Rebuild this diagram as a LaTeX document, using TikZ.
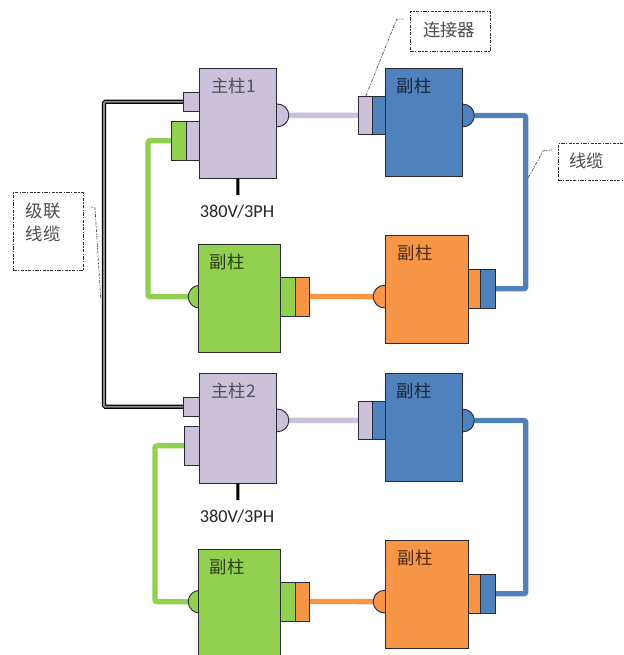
\documentclass[tikz,border=0pt]{standalone}
\usepackage{fontspec}
\setmainfont{Carlito}
\newfontfamily\cjk{Noto Sans CJK SC}
\usetikzlibrary{backgrounds}
\definecolor{cpur}{HTML}{CCC1DA}
\definecolor{cblu}{HTML}{4F81BD}
\definecolor{cgrn}{HTML}{92D050}
\definecolor{corg}{HTML}{F79646}
\definecolor{cline}{HTML}{2A2A35}
\tikzset{
  x=0.75pt,y=-0.75pt,
  unitbox/.style={draw=cline,line width=0.7pt,anchor=north west,outer sep=0pt,inner sep=0pt},
  bump/.style={circle,draw=cline,line width=0.7pt,minimum size=17pt,inner sep=0pt,outer sep=0pt},
  cable/.style={line width=4pt,rounded corners=1.5pt,line cap=butt,
    preaction={draw=black!20,transform canvas={shift={(0.7pt,-1.1pt)}}}},
  cascade/.style={line width=0.9pt,draw=black,double=black!45,double distance=1.4pt,rounded corners=1pt},
  power/.style={line width=2.2pt,draw=black},
  note/.style={draw=black!80,line width=0.5pt,dash pattern=on 2.5pt off 1pt on 1pt off 1pt,anchor=north west,outer sep=0pt,inner sep=0pt},
  leader/.style={draw=black!70,line width=0.5pt,dash pattern=on 2.5pt off 1pt on 1pt off 1pt},
  unitlabel/.style={font=\cjk\fontsize{13}{15}\selectfont,inner sep=0pt},
  notelabel/.style={font=\cjk\fontsize{13}{15}\selectfont,inner sep=0pt,text=black!70},
  volt/.style={font=\fontsize{13.7}{15}\selectfont,inner sep=0pt,text=black!85},
}
\newcommand{\Rct}[6]{% fill, name, x1, y1, x2, y2
  \node[unitbox,fill=#1,minimum width={((#5)-(#3))*0.75pt},minimum height={((#6)-(#4))*0.75pt}] (#2) at (#3,#4) {};}
\begin{document}
\begin{tikzpicture}
\useasboundingbox (0,0) rectangle (623,655);

\foreach \off/\s/\lab in {0/a/主柱1,305/b/主柱2}{
  % master unit
  \node[bump,fill=cpur] (mb\s) at (277.5,115.4+\off) {};
  \Rct{cpur}{mc\s}{183.7}{92.3+\off}{199}{111.3+\off}
  \Rct{cpur}{m\s}{199}{68.3+\off}{276.7}{178.3+\off}
  \node[unitlabel,text=black!60!cpur] (ml\s) at (233.5,86+\off) {\lab};
  \node[volt] (v\s) at (237,212+\off) {380V/3PH};
  \coordinate (pw\s) at (237.8,195+\off);
  \draw[power] (m\s.south) -- (pw\s);
  % blue unit
  \node[bump,fill=cblu] (bb\s) at (463,115.5+\off) {};
  \Rct{cblu}{bc\s}{372.3}{96+\off}{385}{134.7+\off}
  \Rct{cpur}{pc\s}{358.3}{96+\off}{372.3}{134.7+\off}
  \Rct{cblu}{bu\s}{385}{68.3+\off}{462.3}{176+\off}
  \node[unitlabel,text=black!70!cblu] (bl\s) at (414,86+\off) {副柱};
  % orange unit
  \node[bump,fill=corg] (ob\s) at (384.5,296.6+\off) {};
  \Rct{corg}{oc\s}{468}{269.3+\off}{480.3}{308.3+\off}
  \Rct{cblu}{uc\s}{480.3}{269.3+\off}{495.7}{308.3+\off}
  \Rct{corg}{ou\s}{385.7}{235.3+\off}{468}{343.3+\off}
  \node[unitlabel,text=black!70!corg] (ol\s) at (415,252.7+\off) {副柱};
  % green unit
  \node[bump,fill=cgrn] (gb\s) at (199.5,296.7+\off) {};
  \Rct{cgrn}{gc\s}{280.3}{277+\off}{295.7}{316+\off}
  \Rct{corg}{rc\s}{295.7}{277+\off}{309}{316+\off}
  \Rct{cgrn}{gu\s}{198.3}{244+\off}{280.3}{352.3+\off}
  \node[unitlabel,text=black!70!cgrn] (gl\s) at (227,261.7+\off) {副柱};
  % blue riser corner helper
  \coordinate (kb\s) at (525.7,200+\off);
}

% lower-left sockets of the master units
\Rct{cpur}{sa}{186.7}{121.3}{199}{160.3}
\Rct{cgrn}{sg}{171.7}{121.3}{186.7}{160.3}
\Rct{cpur}{sb}{184.7}{426.3}{199}{465.3}

\coordinate (kga) at (148,200);
\coordinate (kgb) at (155,520);
\coordinate (kk) at (104,250);

% callouts
\node[note,minimum width=60pt,minimum height=29.7pt] (n1) at (410.3,11.7) {};
\node[notelabel] (n1t) at (449,29.5) {连接器};
\node[note,minimum width=52pt,minimum height=27.2pt] (n2) at (558.3,143.7) {};
\node[notelabel] (n2t) at (586.7,160.5) {线缆};
\node[note,minimum width=52.5pt,minimum height=58.2pt] (n3) at (13.3,192.7) {};
\node[notelabel] (n3t) at (43,210.7) {级联};
\node[notelabel] (n3u) at (43,234) {线缆};

\coordinate (l1a) at (396.7,19.3);
\coordinate (l1b) at (403,19);
\coordinate (l2s) at (528.3,177.7);
\coordinate (l2a) at (543.3,150.7);
\coordinate (l2b) at (551.7,150);
\coordinate (l3s) at (100.7,298);
\coordinate (l3a) at (95,208);
\coordinate (l3b) at (90,206.7);
\draw[leader] (pca.north west) ++(7.5,0) -- (l1a) -- (l1b);
\draw[leader] (l2s) -- (l2a) -- (l2b);
\draw[leader] (l3s) -- (l3a) -- (l3b);

\begin{scope}[on background layer]
  \draw[cable,draw=cpur] (mba.east) -- (pca.west);
  \draw[cable,draw=cpur] (mbb.east) -- (pcb.west);
  \draw[cable,draw=cblu] (bba.east) -| (kba) |- (uca.east);
  \draw[cable,draw=cblu] (bbb.east) -| (kbb) |- (ucb.east);
  \draw[cable,draw=corg] (rca.east) -- (oba.west);
  \draw[cable,draw=corg] (rcb.east) -- (obb.west);
  \draw[cable,draw=cgrn] (sg.west) -| (kga) |- (gba.west);
  \draw[cable,draw=cgrn] (sb.west) -| (kgb) |- (gbb.west);
  \draw[cascade] (mca.west) -| (kk) |- (mcb.west);
\end{scope}
\end{tikzpicture}
\end{document}
